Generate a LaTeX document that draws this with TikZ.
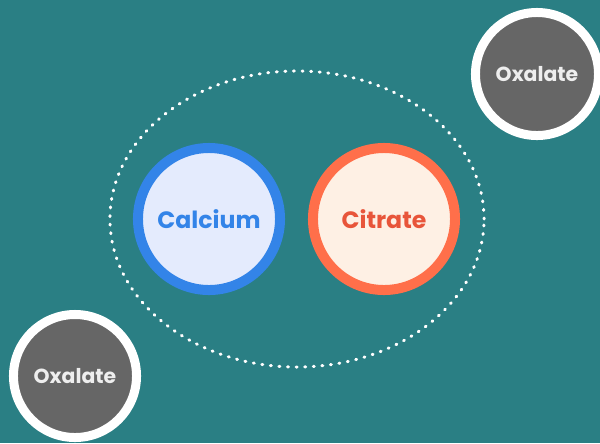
\documentclass[tikz,border=0pt]{standalone}
\usepackage{fontspec}
\setmainfont{Poppins}
\usepackage{tikz}
\usetikzlibrary{positioning,shapes.geometric}

\definecolor{bgteal}{HTML}{2A7F84}
\definecolor{cablue}{HTML}{3384E8}
\definecolor{cafill}{HTML}{E4EBFD}
\definecolor{citorange}{HTML}{FF6F4A}
\definecolor{citfill}{HTML}{FEF0E4}
\definecolor{cittext}{HTML}{E8553A}
\definecolor{oxgrey}{HTML}{666666}
\definecolor{oxtext}{HTML}{EEEEEE}

\tikzset{
    ion/.style={circle, line width=0.25cm, minimum size=3.55cm, inner sep=0pt, font=\bfseries\fontsize{16.8}{18}\selectfont},
    oxalate/.style={circle, draw=white, fill=oxgrey, text=oxtext, line width=0.225cm, minimum size=3.075cm, inner sep=0pt, font=\bfseries\fontsize{14.5}{16}\selectfont}
}

\begin{document}
\begin{tikzpicture}[x=0.025cm, y=-0.025cm]
    \fill[bgteal] (0,0) rectangle (600,443);
    \useasboundingbox (0,0) rectangle (600,443);

    % Nodes
    \node[ellipse, draw=white, line width=0.075cm, line cap=round, dash pattern=on 0.025cm off 0.19cm, minimum width=9.35cm, minimum height=7.4cm, inner sep=0pt] (complex) at (297,219) {};
    \node[ion, draw=cablue, fill=cafill, text=cablue] (calcium) at (209,219) {Calcium};
    \node[ion, draw=citorange, fill=citfill, text=cittext] (citrate) at (384,219) {Citrate};

    \node[oxalate] (oxalatetop) at (537,74) {Oxalate};
    \node[oxalate] (oxalatebottom) at (75,376) {Oxalate};
\end{tikzpicture}
\end{document}
